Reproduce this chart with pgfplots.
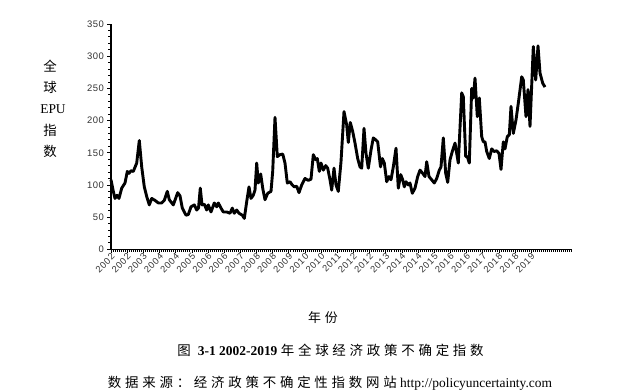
\documentclass[border=0pt]{standalone}
\usepackage{fontspec}
\usepackage{pgfplots}
\pgfplotsset{compat=1.18}
\setmainfont{Liberation Serif}
\newfontfamily\cjk[LetterSpace=28]{Noto Sans CJK SC}
\newfontfamily\cjkn{Noto Sans CJK SC}
\newfontfamily\tickfont[LetterSpace=6]{Liberation Sans}
\begin{document}
\begin{tikzpicture}
\useasboundingbox (-111bp,-142.7bp) rectangle (530bp,249.3bp);
\begin{axis}[
  at={(0bp,0bp)}, anchor=south west,
  scale only axis, width=461bp, height=225.3bp,
  xmin=0, xmax=461, ymin=0, ymax=350,
  axis lines=left,
  axis line style={-, line width=1.3bp, black},
  tick align=outside,
  major tick length=3.5bp, minor tick length=2.5bp,
  tick style={black, line width=0.8bp},
  ytick={0,50,100,150,200,250,300,350},
  minor ytick={10,20,30,40,60,70,80,90,110,120,130,140,160,170,180,190,210,220,230,240,260,270,280,290,310,320,330,340},
  xtick={0,16.16,32.32,48.48,64.64,80.8,96.96,113.12,129.28,145.44,161.6,177.76,193.92,210.08,226.24,242.4,258.56,274.72,290.88,307.04,323.2,339.36,355.52,371.68,387.84,404,420.16},
  xticklabels={2002,2002,2003,2004,2004,2005,2006,2006,2007,2008,2008,2009,2010,2010,2011,2012,2012,2013,2014,2014,2015,2016,2016,2017,2018,2018,2019},
  minor xtick={0,2.02,...,460},
  x tick style={line width=0.6bp},
  xticklabel style={rotate=45, anchor=east, font=\tickfont\fontsize{9.3}{9.3}\selectfont, text=black!80, inner sep=1bp, yshift=-3bp, xshift=1bp},
  yticklabel style={font=\tickfont\fontsize{9.5}{9.5}\selectfont, text=black!80},
  /pgf/number format/assume math mode=true,
  clip=false,
]
\addplot[black, line width=2.9bp, line join=round] table {
x y
0 108
2.3 90
4 79
6 84
8 79
10.7 95
14 103
16.3 121
18 118
20 122
22.3 121
25.7 134
28.3 169
30.7 128
33.3 97
35.7 82
38.3 69
40.7 79
44 76
47.3 72
50.7 72
53.3 76
56.3 90
58.3 77
62.3 69
66.7 88
69 83
71.3 64
75 53
77.3 54
80 66
83.3 69
85.7 61
87.5 64
89.3 95
91 69
93.3 70
95.7 61
97.3 69
100 58
103.3 72
105.7 66
107.3 72
110 64
112.3 58
115.7 58
119 56
121.3 64
123.3 56
125.7 61
128 56
131.3 53
133.3 48
135.7 74
138 97
140 79
142.3 84
144 92
145.7 134
147.3 103
149.7 117
151.7 95
154 77
156.7 87
160 90
161.7 121
164 205
166.3 144
169 147
171.7 148
174 134
176.3 103
179 105
180.7 101
183.3 97
185.7 98
188 88
190.7 100
194 110
197.3 107
200 109
202.3 147
204.7 139
206.3 141
208.3 121
210 134
212.3 123
214.7 130
216.7 126
219 108
220.7 92
223 126
225 100
227.3 90
230 136
233 214
235.7 193
237.3 166
239.3 197
241.7 183
244 165
246.7 141
249 128
250.7 126
253 188
255 149
257.3 126
260 154
262.3 173
264.7 170
266.7 167
269.5 128
271.3 141
273.3 134
275.7 105
278 113
280 108
282.3 128
285 157
287.3 95
289.7 116
291.7 108
293.3 97
295 105
297.3 100
299 103
301.3 87
304 95
306.7 113
309 123
311.7 118
314 113
315.7 136
318 113
320.7 108
323.3 103
325.7 110
328.3 123
330 128
332.3 173
334.7 118
336.7 104
339 139
341.3 152
344 165
347.3 134
350.7 243
352.3 237
354.7 144
356.3 144
358.3 134
360.7 250
362.3 235
364 266
366.3 206
368.3 235
370.7 175
372.3 167
374 167
375.7 152
378.3 141
380.7 156
383 152
385.7 153
388 149
390 124
392.3 167
394 156
396.3 175
398.3 178
400 222
402.3 180
405 201
407.3 227
410.7 268
412.3 263
415 206
417 248
419 191
422.3 315
424.7 263
427 316
429 274
431.7 258
434 252
};
\end{axis}
\node[font=\cjkn\fontsize{13.5}{13.5}\selectfont] at (-61bp,183bp) {全};
\node[font=\cjkn\fontsize{13.5}{13.5}\selectfont] at (-61bp,162bp) {球};
\node[font=\fontsize{13.5}{13.5}\selectfont] at (-58bp,140bp) {EPU};
\node[font=\cjkn\fontsize{13.5}{13.5}\selectfont] at (-61bp,119.3bp) {指};
\node[font=\cjkn\fontsize{13.5}{13.5}\selectfont] at (-61bp,98bp) {数};
\node[font=\cjk\fontsize{13}{13}\selectfont] at (212bp,-68.7bp) {年份};
\node[font=\fontsize{13.5}{13.5}\selectfont] at (219.5bp,-101.4bp) {{\cjk 图} \textbf{3-1 2002-2019} {\cjk 年全球经济政策不确定指数}};
\node[font=\fontsize{13.5}{13.5}\selectfont] at (219bp,-134bp) {{\cjk 数据来源：经济政策不确定性指数网站} http://policyuncertainty.com};
\end{tikzpicture}
\end{document}
